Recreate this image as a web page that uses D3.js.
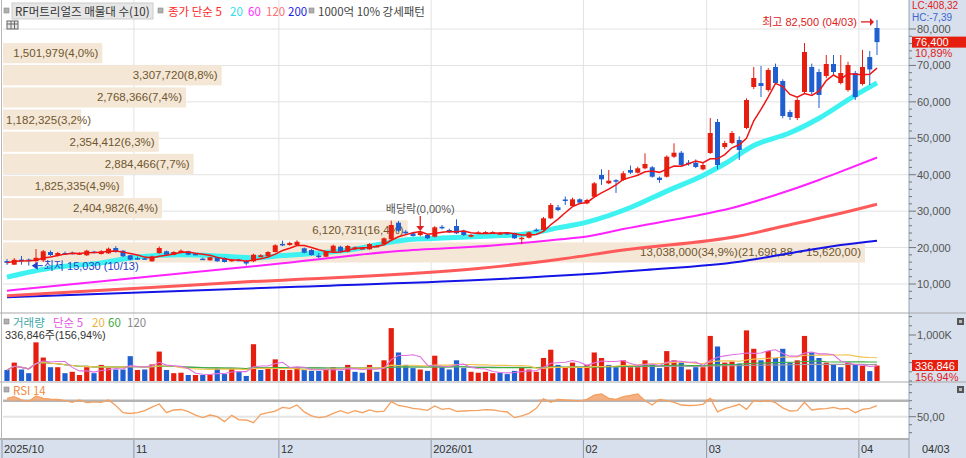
<!DOCTYPE html>
<meta charset="utf-8">
<script src="https://d3js.org/d3.v7.min.js"></script>
<style>
  body { margin: 0; background: #fff; }
  svg text { font-family: "Liberation Sans", "Noto Sans CJK KR", sans-serif; }
  .kr { font-family: "Noto Sans CJK KR", sans-serif !important; }
</style>
<div id="chart"></div>
<script>

// ---- values ----
var monthLabels = ["2025/10", "11", "12", "2026/01", "02", "03", "04"];
var monthStart = [0, 18, 38, 59, 80, 97, 118];

var opens = [16300,15300,16700,16700,16300,16500,18780,17880,18500,18600,
  18250,17880,18900,18230,18430,19880,19140,17880,17100,17050,
  16230,18500,18980,18040,18500,18980,18300,16950,16500,17330,
  17140,16230,16650,16400,16230,17410,17600,18780,21000,20700,
  20700,19800,19330,17800,17500,18870,20240,18870,19530,19700,
  19530,20300,20980,22270,26830,24360,23900,23450,23450,22980,
  25700,24820,25920,24630,22980,24050,24050,24100,23800,24000,
  24000,22400,22700,24900,24820,28030,31050,33200,31400,33250,
  32150,33960,39920,37640,38500,38550,41290,40550,41760,42030,
  39180,39450,44940,46040,43300,43300,41480,45960,54470,47600,
  48700,49530,52820,64080,65170,63250,69570,65720,57210,55570,
  62700,69570,68190,67100,70390,65170,63250,67920,64900,72300,80270];
var highs = [16850,17100,17700,17000,19600,19330,19200,18800,18900,18900,
  18700,19400,19100,19300,20000,20400,19300,18000,17500,17300,
  17800,20300,19200,19000,19500,19100,18500,17200,17500,17500,
  17300,16900,16900,16600,18300,18200,19000,20900,21900,21600,
  22000,20000,19600,18500,19100,20800,20500,20700,20300,20100,
  21200,20700,22800,27380,27300,24800,24300,24500,23700,25900,
  26200,25200,27760,24900,23700,24500,24500,24500,24300,24200,
  24100,23000,24400,25300,28400,32200,31700,34000,33700,33500,
  33400,38000,41480,41290,38800,41000,42500,42200,45870,42400,
  39500,45300,48620,46500,44000,44200,43200,55570,55300,49300,
  52000,50500,61000,69570,69850,69300,70500,66200,57800,61000,
  76150,70500,69000,72860,72860,72860,71000,68500,74230,73960,82500];
var lows = [15250,15250,15300,15030,15400,16040,17700,17600,18000,18100,
  18000,17700,18400,18100,18300,18600,17400,16500,16700,16600,
  16100,18300,17900,17900,18400,17900,17900,16600,16400,16100,
  15900,16100,16300,15100,16000,17300,17500,18700,20400,20500,
  20500,18400,17800,17100,17400,18700,18700,18700,19300,19500,
  19400,20100,20800,22000,24300,23600,23000,23100,22300,22800,
  25000,24000,23700,23200,22800,23800,23800,23800,23600,23600,
  22400,20900,22500,24400,24600,27800,30000,31700,31200,32000,
  31900,33700,37200,37400,35000,38300,40200,40300,41500,39200,
  37800,39200,44600,42300,42500,41800,41200,45700,41500,47000,
  48400,44040,52500,63500,61330,62800,64800,55500,55000,55000,
  62300,62000,58300,66500,67500,64800,62800,60510,64500,64630,72860];
var closes = [15800,16650,16500,16450,17200,18980,17960,18500,18350,18450,
  18450,19140,18700,18980,19690,18780,17600,16670,16950,16900,
  17600,19880,18040,18780,19140,18040,18150,16800,17330,16230,
  16040,16670,16550,15620,18040,17880,18780,20620,20620,21250,
  21600,18600,17960,17650,18870,20510,18870,20430,20070,19850,
  20980,20450,22540,26200,24630,23920,23180,24190,22540,25560,
  25450,24190,23920,23450,23450,24190,24250,24250,23950,23850,
  22540,22700,24190,24750,28030,31690,30310,33000,33250,32320,
  33060,37640,38740,38360,38300,40390,40550,41760,42940,39450,
  38550,44940,46040,42670,42940,42120,42670,51450,42670,48700,
  51450,46780,60510,66550,64350,68740,65170,56120,55840,60510,
  73680,62700,61880,70390,68190,67920,70120,61330,69570,68900,76400];
var volumes = [240000,400000,250000,170000,840000,510000,300000,300000,170000,200000,
  130000,300000,170000,350000,280000,250000,250000,540000,240000,250000,
  360000,640000,240000,170000,180000,130000,130000,130000,130000,280000,
  150000,280000,200000,110000,800000,240000,280000,470000,240000,240000,
  300000,240000,220000,220000,250000,300000,220000,350000,200000,180000,
  350000,200000,450000,1150000,620000,350000,280000,250000,220000,550000,
  300000,250000,450000,280000,200000,180000,200000,170000,180000,150000,
  220000,300000,250000,200000,500000,680000,350000,300000,400000,300000,
  350000,620000,500000,350000,300000,450000,300000,300000,450000,350000,
  280000,650000,450000,400000,250000,300000,300000,980000,750000,400000,
  420000,380000,1100000,700000,450000,650000,500000,700000,400000,450000,
  980000,620000,500000,400000,350000,300000,400000,350000,330000,214634,336846];
var rsi14 = [73,75,71,68.8,75.9,73,72,71.7,70,68,
  70.9,67.5,68.5,68,70.9,64,55,54,55,57.5,
  62,65.9,55,58.4,59,56.3,52,48.8,52.1,50,
  43.8,51.7,46,45.9,42.5,53,55,57,61.7,60.5,
  64.6,56,51,48.8,50,54.2,57.5,54.2,57.5,55,
  58.4,56,57,68.8,64,62.5,60.5,59.6,58,63.4,
  59.2,60.5,56.7,57.1,57.5,58,58.8,58.4,57,55.9,
  48.8,51,54.2,60.5,72.5,68,71.7,70.9,70.5,69.5,
  71.7,77,78.4,73,71.7,75,76.5,78.4,70,64.6,
  71.7,70,68,64.6,64,64.2,65.5,73,56,60,
  62.5,65.5,59.2,70,68.8,70.5,67.5,61,57.1,57.5,
  68,58.4,59.6,60,61.7,59.6,60.5,55,59.2,60.5,63.8];

// long moving averages need history before this window, so they are read at a few candles
var ma20Idx = [0, 6, 13, 18, 24, 30, 34, 38, 43, 48, 53, 56, 60, 67, 71, 76, 80, 86, 91, 96, 99, 103, 108, 112, 117, 120];
var ma20Val = [11900, 14400, 15800, 17400, 18000, 17600, 17200, 17800, 18500, 19600, 21500, 22300, 22600, 23200, 23600, 25400, 27000, 31000, 35500, 39800, 43000, 48000, 51500, 55500, 61800, 65200];
var ma60Idx = [0, 18, 38, 54, 67, 76, 80, 85, 94, 100, 106, 112, 115, 120];
var ma60Val = [8160, 11730, 15680, 19060, 20570, 22220, 23040, 25100, 28390, 30860, 34430, 38550, 40830, 44720];
var ma120Idx = [0, 32, 65, 76, 85, 101, 108, 115, 120];
var ma120Val = [6790, 10470, 14280, 16720, 19330, 23180, 26280, 29400, 31880];
var ma200Idx = [0, 40, 65, 88, 101, 108, 115, 120];
var ma200Val = [6350, 9260, 11100, 13840, 16120, 18430, 20700, 21890];

// volume profile, 10 close-price bands, listed top to bottom
var bandVolumes = [1501979, 3307720, 2768366, 1182325, 2354412, 2884466, 1825335, 2404982, 6120731, 13038000];
var bandPcts = [4.0, 8.8, 7.4, 3.2, 6.3, 7.7, 4.9, 6.4, 16.4, 34.9];
var bandLow = 15620, bandStep = 6078.88;

var priceTicks = [10000, 20000, 30000, 40000, 50000, 60000, 70000, 80000];

// ---- layout ----
var W = 966, H = 458;
var plotL = 3, plotR = 909;
var mainBot = 313, volBot = 382, rsiBot = 440;
var RED = "#e61e10", BLUE = "#1f5fd0";

var svg = d3.select("#chart").append("svg")
    .attr("width", W)
    .attr("height", H);

var x = d3.scaleLinear().domain([0, closes.length - 1]).range([7, 877]);
var y = d3.scaleLinear().domain([10000, 80000]).range([284, 29]);
var yv = d3.scaleLinear().domain([0, 1000000]).range([381, 335]);
var yr = d3.scaleLinear().domain([50, 70]).range([416.7, 400.7]);

function sma(arr, n) {
  return arr.map(function(d, i) { return d3.mean(arr.slice(Math.max(0, i - n + 1), i + 1)); });
}
function pairs(idx, val) { return idx.map(function(d, i) { return [d, val[i]]; }); }
function commaDec(s) { return s.replace(/\.(\d+)/, ",$1"); }

// axis backgrounds
svg.append("rect").attr("x", plotR).attr("y", 0).attr("width", W - plotR).attr("height", H).attr("fill", "#d7e0ec");
svg.append("rect").attr("x", 0).attr("y", rsiBot).attr("width", W).attr("height", H - rsiBot).attr("fill", "#d7e0ec");

// grid
var grid = svg.append("g");
grid.selectAll(".hg").data(priceTicks).join("line").attr("class", "hg")
    .attr("x1", plotL).attr("x2", plotR)
    .attr("y1", function(d) { return y(d); }).attr("y2", function(d) { return y(d); })
    .attr("stroke", "#e2e2e2");
grid.selectAll(".vg").data(monthStart.slice(1)).join("line").attr("class", "vg")
    .attr("x1", function(d) { return x(d) - 3.6; }).attr("x2", function(d) { return x(d) - 3.6; })
    .attr("y1", 0).attr("y2", rsiBot)
    .attr("stroke", "#e2e2e2");

// volume profile bands
var maxBand = d3.max(bandVolumes);
var bands = bandVolumes.map(function(v, k) {
  var top = bandLow + (10 - k) * bandStep, bot = bandLow + (9 - k) * bandStep;
  var label = d3.format(",")(v) + "(" + commaDec(bandPcts[k].toFixed(1)) + "%)";
  if (k == 9) label += "(" + commaDec(d3.format(",.2f")(bot + bandStep)) + " ~ " + commaDec(d3.format(",.2f")(bot)) + ")";
  return { y0: y(top) + 1, y1: y(bot) - 1, x1: plotL + v / maxBand * 862, label: label };
});
var bandG = svg.append("g");
bandG.selectAll("rect").data(bands).join("rect")
    .attr("x", plotL)
    .attr("y", function(d) { return d.y0; })
    .attr("width", function(d) { return d.x1 - plotL; })
    .attr("height", function(d) { return d.y1 - d.y0; })
    .attr("fill", "#f5e7d5");
bandG.selectAll("text").data(bands).join("text")
    .attr("y", function(d) { return (d.y0 + d.y1) / 2 + 4; })
    .attr("text-anchor", "end")
    .style("font-size", "11.5px")
    .attr("fill", "#6e5630")
    .text(function(d) { return d.label; })
    .each(function(d) {
      var w = this.getComputedTextLength();
      d3.select(this).attr("x", Math.max(d.x1 - 4, 6 + w));
    });

// moving averages of price
var smooth = d3.line().x(function(d) { return x(d[0]); }).y(function(d) { return y(d[1]); }).curve(d3.curveMonotoneX);
var mas = [
  { p: pairs(ma200Idx, ma200Val), c: "#1414e6", w: 2 },
  { p: pairs(ma120Idx, ma120Val), c: "#ff5a5a", w: 3 },
  { p: pairs(ma60Idx, ma60Val), c: "#ff22ff", w: 2 },
  { p: pairs(ma20Idx, ma20Val), c: "#3ef2f2", w: 5 }
];
svg.append("g").selectAll("path").data(mas).join("path")
    .attr("d", function(d) { return smooth(d.p); })
    .attr("fill", "none")
    .attr("stroke", function(d) { return d.c; })
    .attr("stroke-width", function(d) { return d.w; });

// candles
function candleColor(i) { return closes[i] >= opens[i] ? RED : BLUE; }
var candle = svg.append("g").selectAll("g").data(d3.range(closes.length)).join("g");
candle.append("line")
    .attr("x1", function(i) { return x(i); }).attr("x2", function(i) { return x(i); })
    .attr("y1", function(i) { return y(highs[i]); }).attr("y2", function(i) { return y(lows[i]); })
    .attr("stroke", candleColor);
candle.append("rect")
    .attr("x", function(i) { return x(i) - 2.5; })
    .attr("width", 5)
    .attr("y", function(i) { return y(Math.max(opens[i], closes[i])); })
    .attr("height", function(i) { return Math.max(1.5, Math.abs(y(opens[i]) - y(closes[i]))); })
    .attr("fill", candleColor);

// 5-day average on top
var ma5 = sma(closes, 5);
svg.append("path")
    .attr("d", d3.line().x(function(d, i) { return x(i); }).y(function(d) { return y(d); })(ma5))
    .attr("fill", "none").attr("stroke", "#f01414").attr("stroke-width", 1.5);

// annotations
var hiI = d3.maxIndex(highs), loI = d3.minIndex(lows);
svg.append("text").attr("x", 857).attr("y", y(highs[hiI]) + 6).attr("text-anchor", "end")
    .style("font-size", "11px").attr("fill", "#e02020").text("최고 82,500 (04/03)");
svg.append("line").attr("x1", 861).attr("x2", 870).attr("y1", y(highs[hiI]) + 2).attr("y2", y(highs[hiI]) + 2)
    .attr("stroke", "#e02020").attr("stroke-width", 1.3);
svg.append("path").attr("d", "M870,18 L874," + (y(highs[hiI]) + 2) + " L870," + (y(highs[hiI]) + 6) + "Z").attr("fill", "#e02020");

var loY = y(lows[loI]);
svg.append("path").attr("d", "M" + (x(loI) + 3) + "," + loY + " l6,-4 l0,8 Z").attr("fill", "#1f3fc8");
svg.append("line").attr("x1", x(loI) + 9).attr("x2", x(loI) + 14).attr("y1", loY).attr("y2", loY).attr("stroke", "#1f3fc8");
svg.append("text").attr("x", x(loI) + 15).attr("y", loY + 4)
    .style("font-size", "11px").attr("fill", "#2440c8").text("최저 15,030 (10/13)");

var divI = 57;
svg.append("text").attr("x", x(divI)).attr("y", 213).attr("text-anchor", "middle")
    .style("font-size", "11px").attr("fill", "#555").text("배당락(0,00%)");
svg.append("line").attr("x1", x(divI)).attr("x2", x(divI)).attr("y1", 216).attr("y2", 226).attr("stroke", "#e02020").attr("stroke-width", 1.3);
svg.append("path").attr("d", "M" + (x(divI) - 4) + ",226 L" + (x(divI) + 4) + ",226 L" + x(divI) + ",231 Z").attr("fill", "#e02020");

// ---- volume panel ----
var volColor = function(i) { return (i == 0 ? closes[i] >= opens[i] : closes[i] >= closes[i - 1]) ? RED : BLUE; };
svg.append("g").selectAll("rect").data(d3.range(volumes.length)).join("rect")
    .attr("x", function(i) { return x(i) - 2.6; })
    .attr("width", 5.2)
    .attr("y", function(i) { return yv(volumes[i]); })
    .attr("height", function(i) { return yv(0) - yv(volumes[i]); })
    .attr("fill", volColor);
var vLine = d3.line().x(function(d, i) { return x(i); }).y(function(d) { return yv(d); });
[[120, "#a0a0a0"], [60, "#3cb043"], [20, "#f2c24a"], [5, "#e070e0"]].forEach(function(m) {
  svg.append("path").attr("d", vLine(sma(volumes, m[0]))).attr("fill", "none").attr("stroke", m[1]).attr("stroke-width", 1.1);
});

// ---- RSI panel ----
svg.append("line").attr("x1", plotL).attr("x2", plotR).attr("y1", yr(70)).attr("y2", yr(70)).attr("stroke", "#b4b4b4").attr("stroke-width", 2.5);
svg.append("line").attr("x1", plotL).attr("x2", plotR).attr("y1", yr(50)).attr("y2", yr(50)).attr("stroke", "#e4e4e4").attr("stroke-width", 2);
svg.append("path")
    .attr("d", d3.area().x(function(d, i) { return x(i); }).y0(yr(70)).y1(function(d) { return yr(Math.max(d, 70)); })(rsi14))
    .attr("fill", "#f3a36e").attr("opacity", 0.85);
svg.append("path")
    .attr("d", d3.line().x(function(d, i) { return x(i); }).y(function(d) { return yr(d); })(rsi14))
    .attr("fill", "none").attr("stroke", "#f4a060").attr("stroke-width", 1.3);

// panel borders
[mainBot, volBot].forEach(function(v) {
  svg.append("line").attr("x1", 0).attr("x2", W).attr("y1", v).attr("y2", v).attr("stroke", "#a8a8a8");
});
svg.append("line").attr("x1", 0).attr("x2", plotR).attr("y1", rsiBot - 1).attr("y2", rsiBot - 1).attr("stroke", "#b0b0b0").attr("stroke-width", 2);
svg.append("line").attr("x1", plotR).attr("x2", plotR).attr("y1", 0).attr("y2", H).attr("stroke", "#9aa4b0");
svg.append("line").attr("x1", 1.5).attr("x2", 1.5).attr("y1", 0).attr("y2", rsiBot).attr("stroke", "#b8b8b8");

// ---- right axes ----
var axG = svg.append("g");
axG.selectAll(".pt").data(d3.range(6000, 82001, 2000).filter(function(d) { return y(d) > 24 && y(d) < 310; })).join("line").attr("class", "pt")
    .attr("x1", plotR).attr("x2", function(d) { return d % 10000 == 0 ? plotR + 7 : plotR + 3; })
    .attr("y1", function(d) { return y(d); }).attr("y2", function(d) { return y(d); })
    .attr("stroke", "#707880");
axG.selectAll(".pl").data(priceTicks).join("text").attr("class", "pl")
    .attr("x", plotR + 8).attr("y", function(d) { return y(d) + 4; })
    .style("font-size", "11px").attr("fill", "#555")
    .text(function(d) { return d3.format(",")(d); });

axG.selectAll(".vt").data(d3.range(0, 1500001, 200000).filter(function(d) { return yv(d) > mainBot + 2; })).join("line").attr("class", "vt")
    .attr("x1", plotR).attr("x2", function(d) { return d == 1000000 ? plotR + 7 : plotR + 3; })
    .attr("y1", function(d) { return yv(d); }).attr("y2", function(d) { return yv(d); })
    .attr("stroke", "#707880");
axG.append("text").attr("x", plotR + 8).attr("y", yv(1000000) + 4).style("font-size", "11px").attr("fill", "#555").text("1,000K");

axG.selectAll(".rt").data([90, 80, 70, 60, 50, 40, 30]).join("line").attr("class", "rt")
    .attr("x1", plotR).attr("x2", function(d) { return d == 50 ? plotR + 7 : plotR + 3; })
    .attr("y1", function(d) { return yr(d); }).attr("y2", function(d) { return yr(d); })
    .attr("stroke", "#707880");
axG.append("text").attr("x", plotR + 8).attr("y", yr(50) + 4).style("font-size", "11px").attr("fill", "#555").text("50,00");

// current values on the right
var last = closes.length - 1;
var chg = (closes[last] / closes[last - 1] - 1) * 100;
axG.append("text").attr("x", 912).attr("y", 9).style("font-size", "10px").attr("fill", "#e02020").text("LC:408,32");
axG.append("text").attr("x", 912).attr("y", 20.5).style("font-size", "10px").attr("fill", "#3a64d0").text("HC:-7,39");
axG.append("rect").attr("x", 912).attr("y", y(closes[last]) - 5.5).attr("width", 54).attr("height", 11).attr("fill", "#e61e10");
axG.append("text").attr("x", 915).attr("y", y(closes[last]) + 4).style("font-size", "11px").attr("fill", "#fff").text(d3.format(",")(closes[last]));
axG.append("text").attr("x", 915).attr("y", y(closes[last]) + 15).style("font-size", "11px").attr("fill", "#e02020").text(commaDec(chg.toFixed(2)) + "%");

var vPct = volumes[last] / volumes[last - 1] * 100;
axG.append("rect").attr("x", 912).attr("y", yv(volumes[last]) - 5.5).attr("width", 46).attr("height", 11).attr("fill", "#e61e10");
axG.append("text").attr("x", 915).attr("y", yv(volumes[last]) + 4).style("font-size", "11px").attr("fill", "#fff").text(d3.format(",")(volumes[last]));
axG.append("text").attr("x", 915).attr("y", yv(volumes[last]) + 15).style("font-size", "11px").attr("fill", "#e02020").text(commaDec(vPct.toFixed(2)) + "%");

[318, 386].forEach(function(t) {
  axG.append("rect").attr("x", 957).attr("y", t).attr("width", 7).attr("height", 7).attr("fill", "#555");
  axG.append("rect").attr("x", 959).attr("y", t + 2).attr("width", 3).attr("height", 3).attr("fill", "#bbb");
});

// ---- bottom date axis ----
var dateG = svg.append("g");
monthStart.forEach(function(s, k) {
  var xx = k == 0 ? 2 : x(s) - 3.6;
  dateG.append("line").attr("x1", xx).attr("x2", xx).attr("y1", rsiBot).attr("y2", H).attr("stroke", "#8c98a8");
  dateG.append("text").attr("x", xx + 2).attr("y", 453).style("font-size", "11px").attr("fill", "#333").text(monthLabels[k]);
});
dateG.append("text").attr("x", 922).attr("y", 453).style("font-size", "11px").attr("fill", "#333").text("04/03");

// ---- legends ----
function square(g, xx, yy) {
  g.append("rect").attr("x", xx).attr("y", yy).attr("width", 5).attr("height", 5).attr("fill", "#b0b0b0").attr("stroke", "#888").attr("stroke-width", 0.6);
}
function item(g, xx, yy, txt, col) {
  g.append("text").attr("class", "kr").attr("x", xx).attr("y", yy).style("font-size", "11.5px").attr("fill", col).text(txt);
}
var lg = svg.append("g");
square(lg, 4, 8);
lg.append("rect").attr("x", 12).attr("y", 3).attr("width", 141).attr("height", 16).attr("fill", "#e6e6e6").attr("stroke", "#cccccc");
item(lg, 15, 15.5, "RF머트리얼즈 매물대 수(10)", "#333");
square(lg, 158, 8);
item(lg, 168, 15.5, "종가 단순 5", "#ff2a2a");
item(lg, 230, 15.5, "20", "#2ee0ee");
item(lg, 248, 15.5, "60", "#ff2eff");
item(lg, 266, 15.5, "120", "#ff7070");
item(lg, 288, 15.5, "200", "#2222e0");
square(lg, 309, 8);
item(lg, 318, 15.5, "1000억 10% 강세패턴", "#444");
// little table icon
lg.append("rect").attr("x", 7).attr("y", 21).attr("width", 11).attr("height", 8).attr("fill", "#e8e8e8").attr("stroke", "#666");
lg.append("line").attr("x1", 7).attr("x2", 18).attr("y1", 24).attr("y2", 24).attr("stroke", "#666");
lg.append("line").attr("x1", 11).attr("x2", 11).attr("y1", 21).attr("y2", 29).attr("stroke", "#666");
lg.append("line").attr("x1", 14.5).attr("x2", 14.5).attr("y1", 21).attr("y2", 29).attr("stroke", "#666");

square(lg, 4, 319);
item(lg, 13, 327, "거래량", "#3fa6a6");
item(lg, 53, 327, "단순 5", "#e25ae2");
item(lg, 92, 327, "20", "#efb23e");
item(lg, 108, 327, "60", "#3ea83e");
item(lg, 127, 327, "120", "#888");
lg.append("text").attr("x", 5).attr("y", 339).style("font-size", "11px").attr("fill", "#333")
    .text(d3.format(",")(volumes[last]) + "주(" + commaDec(vPct.toFixed(2)) + "%)");

square(lg, 4, 387);
item(lg, 13, 395, "RSI 14", "#f08a40");

</script>
